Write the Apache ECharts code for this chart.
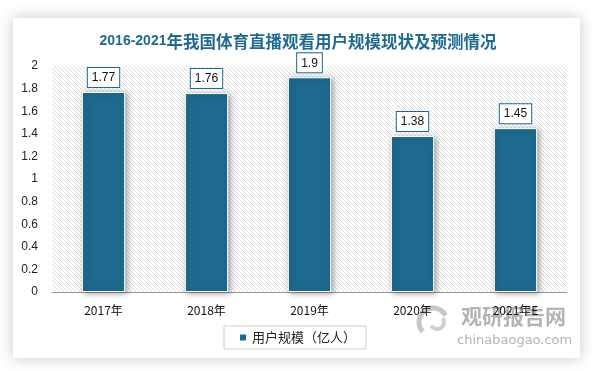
<!DOCTYPE html>
<html><head><meta charset="utf-8">
<script src="https://cdn.jsdelivr.net/npm/echarts@6/dist/echarts.min.js"></script>
<style>html,body{margin:0;padding:0;background:#fff}#c{width:596px;height:371px}</style>
</head><body><div id="c"></div>
<script>
const categories = ['2017年','2018年','2019年','2020年','2021年E'];
const users = [1.77, 1.76, 1.9, 1.38, 1.45];
const seriesName = '用户规模（亿人）';
const titleYears = '2016-2021';
const titleRest = '年我国体育直播观看用户规模现状及预测情况';

const pc = document.createElement('canvas');
pc.width = 4; pc.height = 4;
const g = pc.getContext('2d');
g.strokeStyle = '#dedede'; g.lineWidth = 1;
g.beginPath();
g.moveTo(0,0); g.lineTo(4,4);
g.moveTo(-2,2); g.lineTo(2,6);
g.moveTo(2,-2); g.lineTo(6,2);
g.stroke();

const chart = echarts.init(document.getElementById('c'), null, {renderer:'canvas'});
chart.setOption({
  animation:false,
  backgroundColor:'#fff',
  title:{
    text:'{a|'+titleYears+'}{b|'+titleRest+'}', left:'center', top:28,
    textStyle:{rich:{
      a:{fontSize:14, fontWeight:'bold', fontFamily:'"Liberation Sans", sans-serif', color:'#1f6b8f'},
      b:{fontSize:16.5, fontWeight:'bold', fontFamily:'"Noto Sans CJK SC", sans-serif', color:'#1f6b8f'}
    }}
  },
  graphic:[
    {type:'rect', z:-10, shape:{x:13,y:18,width:567,height:340},
     style:{fill:'#fff', shadowBlur:14, shadowColor:'rgba(0,0,0,0.22)', shadowOffsetX:0, shadowOffsetY:0}},
    {type:'arc', z:0, shape:{cx:433, cy:322, r:14, startAngle:2.4, endAngle:5.8}, style:{stroke:'rgba(160,160,160,0.6)', lineWidth:5, fill:null}},
    {type:'arc', z:0, shape:{cx:437, cy:322, r:7, startAngle:-0.6, endAngle:2.6}, style:{stroke:'rgba(170,170,170,0.55)', lineWidth:4, fill:null}},
    {type:'text', left:461, top:306, z:0, style:{text:'观研报告网', font:'bold 21px "Noto Sans CJK SC", sans-serif', fill:'rgba(140,140,140,0.65)'}},
    {type:'text', left:457, top:334, z:0, style:{text:'chinabaogao.com', font:'13px "DejaVu Sans", sans-serif', fill:'rgba(140,140,140,0.65)'}}
  ],
  grid:{left:52, right:29, top:66, bottom:79, show:true, borderWidth:0,
        backgroundColor:{image:pc, repeat:'repeat'}},
  legend:{
    data:[seriesName], left:224, top:326, width:147, height:25,
    padding:[5,10,5,14], borderColor:'#d0d0d0', borderWidth:1,
    itemWidth:8, itemHeight:8, icon:'rect', itemGap:6,
    textStyle:{fontSize:13, color:'#222', fontFamily:'"Noto Sans CJK SC", sans-serif'}
  },
  xAxis:{type:'category', data:categories,
    axisLine:{lineStyle:{color:'#999', width:1}}, axisTick:{show:false},
    axisLabel:{color:'#111', fontSize:12, margin:12, fontFamily:'"Noto Sans CJK SC", sans-serif'}},
  yAxis:{type:'value', min:0, max:2, interval:0.2,
    axisLine:{show:false}, axisTick:{show:false}, splitLine:{show:false},
    axisLabel:{color:'#222', fontSize:12, margin:14, fontFamily:'"Liberation Sans", sans-serif',
      formatter: v => String(Math.round(v*10)/10)}},
  series:[{
    name:seriesName, type:'bar', data:users, barWidth:'42%',
    itemStyle:{color:'#1d6a8e', borderColor:'#fff', borderWidth:1,
      shadowBlur:6, shadowColor:'rgba(0,0,0,0.35)', shadowOffsetX:2, shadowOffsetY:1},
    label:{show:true, position:'top', distance:5, color:'#111', fontSize:12,
      backgroundColor:'#fff', borderColor:'#1d6a8e', borderWidth:1, padding:[4,4,3,4],
      fontFamily:'"Liberation Sans", sans-serif'}
  }]
});
</script></body></html>
